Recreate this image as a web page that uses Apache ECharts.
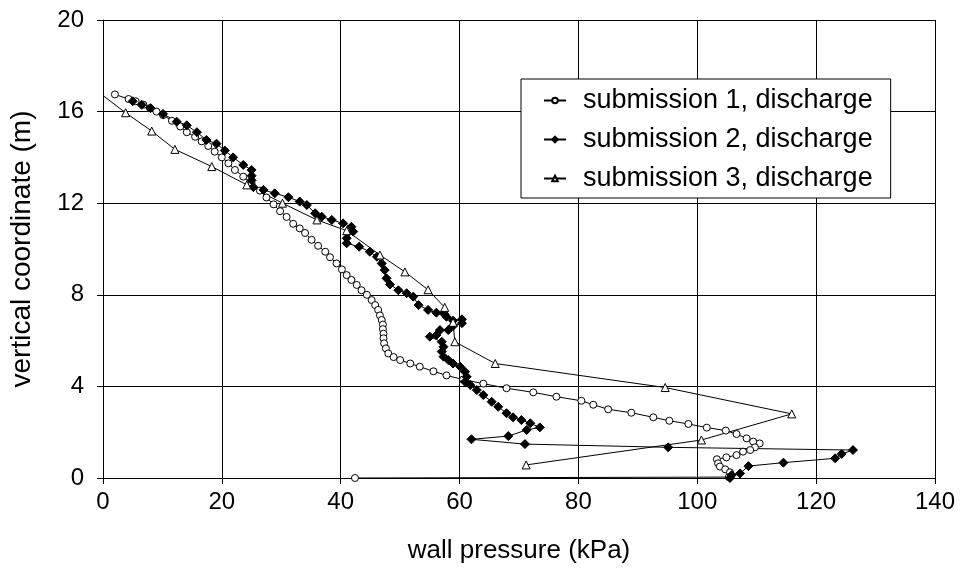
<!DOCTYPE html>
<html>
<head>
<meta charset="utf-8">
<script src="https://cdn.jsdelivr.net/npm/echarts@6/dist/echarts.min.js"></script>
<style>
  html, body { margin: 0; padding: 0; background: #fff; }
  #chart { width: 961px; height: 569px; }
</style>
</head>
<body>
<div id="chart"></div>
<script>
  const seriesNames = ['submission 1, discharge', 'submission 2, discharge', 'submission 3, discharge'];
  const xTicks = [0, 20, 40, 60, 80, 100, 120, 140];
  const yTicks = [0, 4, 8, 12, 16, 20];

  // [wall pressure (kPa), vertical coordinate (m)]
  const submission1 = [
    [2.0, 16.75], [4.3, 16.55], [5.5, 16.45], [6.8, 16.3], [7.9, 16.15], [9.0, 16.0], [10.1, 15.85],
    [11.6, 15.6], [13.0, 15.35], [14.1, 15.1], [15.5, 14.9], [16.6, 14.7], [17.7, 14.5], [18.8, 14.25],
    [20.0, 14.0], [21.1, 13.74], [22.2, 13.45], [23.6, 13.16], [25.0, 12.87], [26.4, 12.55], [27.5, 12.25],
    [28.7, 11.95], [29.8, 11.65], [30.9, 11.4], [32.0, 11.1], [33.1, 10.9], [34.0, 10.7], [35.1, 10.4],
    [36.2, 10.14], [37.4, 9.88], [38.2, 9.64], [39.3, 9.37], [40.2, 9.11], [41.0, 8.86], [41.8, 8.65],
    [42.7, 8.43], [43.5, 8.2], [44.4, 8.0], [45.2, 7.77], [45.8, 7.55], [46.3, 7.34], [46.6, 7.1],
    [46.9, 6.9], [47.1, 6.7], [47.1, 6.5], [47.2, 6.3], [47.2, 6.1], [47.3, 5.88], [47.6, 5.66],
    [48.0, 5.44], [48.9, 5.28], [50.0, 5.15], [51.7, 5.0], [53.3, 4.86], [55.6, 4.66], [57.8, 4.48],
    [60.6, 4.3], [64.0, 4.12], [67.9, 3.92], [72.4, 3.74], [76.3, 3.55], [80.5, 3.37], [82.5, 3.2],
    [85.0, 3.0], [88.9, 2.85], [92.6, 2.65], [95.3, 2.5], [98.5, 2.36], [101.6, 2.2], [104.8, 2.07],
    [106.6, 1.92], [108.3, 1.73], [109.4, 1.59], [110.5, 1.51], [109.7, 1.34], [108.9, 1.22],
    [107.7, 1.15], [106.6, 1.0], [104.9, 0.9], [103.3, 0.82], [103.5, 0.64], [103.8, 0.5],
    [104.7, 0.38], [105.5, 0.25], [105.3, 0.04], [42.4, 0]
  ];

  const submission2 = [
    [5.0, 16.45], [6.5, 16.3], [8.0, 16.15], [10.1, 15.9], [12.4, 15.56], [14.1, 15.4], [15.8, 15.1],
    [17.4, 14.76], [19.1, 14.6], [20.5, 14.3], [21.9, 14.0], [23.6, 13.67], [25.0, 13.45], [25.0, 13.2],
    [25.0, 13.0], [25.3, 12.7], [27.0, 12.58], [28.9, 12.43], [31.2, 12.26], [33.1, 12.07], [34.3, 11.92],
    [35.7, 11.56], [36.8, 11.41], [38.5, 11.27], [40.4, 11.12], [41.8, 10.97], [42.1, 10.76], [41.0, 10.47],
    [41.0, 10.25], [43.1, 10.1], [44.9, 9.88], [46.1, 9.66], [46.9, 9.37], [47.4, 9.08], [47.7, 8.72],
    [48.3, 8.45], [49.7, 8.2], [51.1, 8.07], [52.2, 7.92], [53.1, 7.55], [54.7, 7.34], [56.1, 7.22],
    [57.3, 7.19], [57.8, 7.04], [58.9, 6.87], [60.4, 6.93], [60.4, 6.76], [58.9, 6.64], [58.1, 6.46],
    [56.7, 6.46], [56.1, 6.24], [55.0, 6.17], [57.0, 5.95], [57.3, 5.73], [57.0, 5.52], [57.3, 5.3],
    [58.1, 5.15], [58.9, 5.0], [60.1, 4.86], [60.9, 4.64], [61.2, 4.42], [60.9, 4.2], [61.8, 4.06],
    [62.9, 3.84], [64.0, 3.62], [65.4, 3.33], [66.5, 3.11], [67.9, 2.83], [69.0, 2.65], [70.4, 2.53],
    [71.9, 2.39], [73.5, 2.21], [71.3, 2.1], [68.2, 1.83], [62.0, 1.69], [71.0, 1.48], [95.1, 1.34],
    [126.2, 1.22], [124.3, 1.05], [123.2, 0.86], [114.5, 0.67], [108.6, 0.52], [107.2, 0.2],
    [105.8, 0.13], [105.5, 0.0]
  ];

  const submission3 = [
    [0, 16.7], [3.8, 15.95], [8.2, 15.15], [12.1, 14.35], [18.3, 13.6], [24.2, 12.8], [30.2, 12.0],
    [36.0, 11.27], [41.0, 10.8], [46.6, 9.74], [50.8, 9.0], [54.7, 8.22], [57.5, 7.45], [58.9, 6.8],
    [59.2, 5.95], [66.0, 5.0], [94.6, 3.95], [115.9, 2.8], [100.7, 1.66], [71.2, 0.57]
  ];

  const font = '"Liberation Sans", Arial, sans-serif';
  const black = '#000';

  const chart = echarts.init(document.getElementById('chart'), null, { renderer: 'canvas' });

  function lineSeries(name, data, symbol, size, fill) {
    return {
      name,
      type: 'line',
      data,
      symbol,
      symbolSize: size,
      showAllSymbol: true,
      lineStyle: { color: black, width: 1 },
      itemStyle: { color: fill, borderColor: black, borderWidth: 1 },
      emphasis: { disabled: true },
      z: 3,
    };
  }

  // the first point of submission 3 sits on the axis without a marker
  const s3data = submission3.map((p, i) => (i === 0 ? { value: p, symbol: 'none' } : p));

  chart.setOption({
    animation: false,
    backgroundColor: '#fff',
    textStyle: { fontFamily: font, color: black },
    grid: { left: 103, right: 26, top: 20, bottom: 91 },
    legend: {
      orient: 'vertical',
      left: 521,
      top: 79,
      padding: [8, 18, 6, 22],
      itemGap: 12,
      itemWidth: 22,
      itemHeight: 7,
      borderColor: black,
      borderWidth: 1,
      backgroundColor: '#fff',
      data: seriesNames,
      textStyle: { fontFamily: font, fontSize: 27, color: black, lineHeight: 27, padding: [0, 0, 0, 12] },
    },
    xAxis: {
      type: 'value',
      min: xTicks[0],
      max: xTicks[xTicks.length - 1],
      interval: 20,
      name: 'wall pressure (kPa)',
      nameLocation: 'middle',
      nameGap: 60,
      nameTextStyle: { fontFamily: font, fontSize: 26, color: black },
      axisLine: { lineStyle: { color: black, width: 1 } },
      axisTick: { show: true, inside: false, length: 6, lineStyle: { color: black } },
      axisLabel: { fontFamily: font, fontSize: 24, color: black, margin: 12 },
      splitLine: { show: true, lineStyle: { color: black, width: 1 } },
    },
    yAxis: {
      type: 'value',
      min: yTicks[0],
      max: yTicks[yTicks.length - 1],
      interval: 4,
      name: 'vertical coordinate (m)',
      nameLocation: 'middle',
      nameGap: 67,
      nameTextStyle: { fontFamily: font, fontSize: 28, color: black },
      axisLine: { show: true, lineStyle: { color: black, width: 1 } },
      axisTick: { show: true, inside: false, length: 6, lineStyle: { color: black } },
      axisLabel: { fontFamily: font, fontSize: 24, color: black, margin: 19 },
      splitLine: { show: true, lineStyle: { color: black, width: 1 } },
    },
    series: [
      lineSeries(seriesNames[0], submission1, 'circle', 7, '#fff'),
      lineSeries(seriesNames[1], submission2, 'diamond', 9, black),
      lineSeries(seriesNames[2], s3data, 'triangle', 8, '#fff'),
    ],
  });

  window.addEventListener('resize', () => chart.resize());
</script>
</body>
</html>
